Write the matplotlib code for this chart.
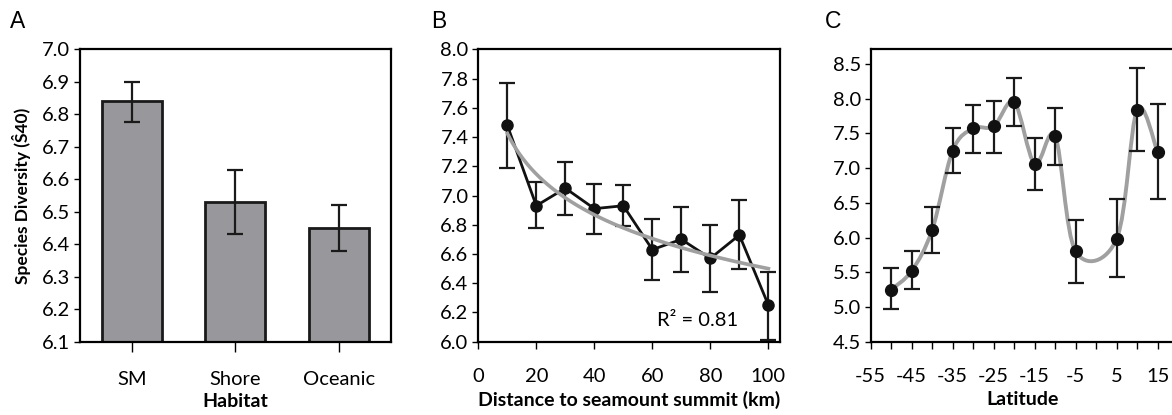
import numpy as np
import matplotlib
matplotlib.use("Agg")
import matplotlib.pyplot as plt
from matplotlib.path import Path
from matplotlib.patches import PathPatch

plt.rcParams.update({
    "font.family": ["Lato", "DejaVu Sans"],
    "xtick.labelsize": 14.5,
    "ytick.labelsize": 14.5,
    "axes.labelsize": 14,
    "axes.labelweight": "bold",
    "axes.linewidth": 1.6,
})

# A: diversity by habitat
habitats = ["SM", "Shore", "Oceanic"]
hab_mean = [6.84, 6.53, 6.45]
hab_lo = [6.775, 6.43, 6.38]
hab_hi = [6.90, 6.63, 6.52]

# B: diversity vs distance to summit
dist_km = [10, 20, 30, 40, 50, 60, 70, 80, 90, 100]
dist_mean = [7.48, 6.93, 7.05, 6.91, 6.93, 6.63, 6.70, 6.57, 6.73, 6.25]
dist_lo = [7.19, 6.78, 6.87, 6.74, 6.79, 6.42, 6.48, 6.34, 6.50, 6.01]
dist_hi = [7.77, 7.09, 7.23, 7.08, 7.07, 6.84, 6.92, 6.80, 6.97, 6.48]

# C: diversity vs latitude
lat = [-50, -45, -40, -35, -30, -25, -20, -15, -10, -5, 5, 10, 15]
lat_mean = [5.25, 5.52, 6.11, 7.25, 7.57, 7.60, 7.95, 7.06, 7.46, 5.80, 5.98, 7.84, 7.23]
lat_lo = [4.97, 5.26, 5.77, 6.93, 7.22, 7.22, 7.60, 6.68, 7.04, 5.35, 5.43, 7.24, 6.56]
lat_hi = [5.56, 5.80, 6.44, 7.57, 7.91, 7.96, 8.30, 7.44, 7.87, 6.25, 6.55, 8.44, 7.92]


def yerr(mean, lo, hi):
    mean = np.asarray(mean)
    return [mean - np.asarray(lo), np.asarray(hi) - mean]


def smooth_path(x, y):
    # Catmull-Rom style bezier through the points (spreadsheet "smoothed line")
    pts = np.column_stack([x, y]).astype(float)
    verts = [pts[0]]
    codes = [Path.MOVETO]
    n = len(pts)
    for i in range(n - 1):
        p0 = pts[i - 1] if i > 0 else pts[i]
        p1 = pts[i]
        p2 = pts[i + 1]
        p3 = pts[i + 2] if i + 2 < n else pts[i + 1]
        verts += [p1 + (p2 - p0) / 6, p2 - (p3 - p1) / 6, p2]
        codes += [Path.CURVE4] * 3
    return Path(verts, codes)


fig = plt.figure(figsize=(11.72, 4.15), dpi=100)
W, H = 1172, 415


def add_axes(x0, x1, y0=49.3, y1=341.7):
    return fig.add_axes([x0 / W, 1 - y1 / H, (x1 - x0) / W, (y1 - y0) / H])


ebar = dict(fmt="none", ecolor="#1a1a1a", elinewidth=1.6, capsize=6, capthick=1.6)

# ---- A ----
axA = add_axes(80, 390.7)
xa = np.arange(len(habitats))
axA.bar(xa, np.asarray(hab_mean) - 6.1, bottom=6.1, width=0.58, color="#98989c",
        edgecolor="#1a1a1a", linewidth=2, zorder=2)
axA.errorbar(xa, hab_mean, yerr=yerr(hab_mean, hab_lo, hab_hi), zorder=3, **ebar)
axA.set_xlim(-0.5, 2.5)
axA.set_ylim(6.1, 7.0)
axA.set_yticks(np.arange(6.1, 7.01, 0.1))
axA.yaxis.set_major_formatter(plt.FormatStrFormatter("%.1f"))
axA.set_xticks(xa)
axA.set_xticklabels(habitats)
axA.tick_params(axis="x", length=7, width=1, pad=14)
axA.tick_params(axis="y", length=4, width=1, pad=3)
axA.set_xlabel("Habitat", labelpad=4)
axA.set_ylabel("Species Diversity (Ŝ40)", fontsize=12.5, labelpad=8)

# ---- B ----
axB = add_axes(478.3, 780)
lx = np.log(dist_km)
b, a = np.polyfit(lx, dist_mean, 1)
xf = np.linspace(min(dist_km), max(dist_km), 200)
axB.plot(dist_km, dist_mean, color="#111111", lw=2, marker="o", ms=8, zorder=3)
axB.plot(xf, a + b * np.log(xf), color="#a0a0a0", lw=2.6, zorder=4)
axB.errorbar(dist_km, dist_mean, yerr=yerr(dist_mean, dist_lo, dist_hi), zorder=2, **ebar)
axB.set_xlim(0, 104)
axB.set_ylim(6.0, 8.0)
axB.set_xticks(range(0, 101, 20))
axB.set_yticks(np.arange(6.0, 8.01, 0.2))
axB.yaxis.set_major_formatter(plt.FormatStrFormatter("%.1f"))
axB.tick_params(axis="x", length=5, width=1, pad=14)
axB.tick_params(axis="y", length=4, width=1, pad=3)
axB.set_xlabel("Distance to seamount summit (km)", labelpad=4)
axB.text(0.861, 0.045, "R² = 0.81", transform=axB.transAxes, ha="right", va="bottom",
         fontsize=14.5)

# ---- C ----
axC = add_axes(870.7, 1174)
axC.add_patch(PathPatch(smooth_path(lat, lat_mean), facecolor="none",
                        edgecolor="#a0a0a0", lw=2.8, zorder=2))
axC.errorbar(lat, lat_mean, yerr=yerr(lat_mean, lat_lo, lat_hi), zorder=3, **ebar)
axC.plot(lat, lat_mean, ls="none", marker="o", ms=8.5, color="#111111", zorder=4)
axC.set_xlim(-55, 19)
axC.set_ylim(4.5, 8.71)
axC.set_xticks(range(-55, 16, 5))
axC.set_xticklabels([str(v) if (v + 55) % 10 == 0 else "" for v in range(-55, 16, 5)])
axC.set_yticks(np.arange(4.5, 8.51, 0.5))
axC.yaxis.set_major_formatter(plt.FormatStrFormatter("%.1f"))
axC.tick_params(axis="x", length=5, width=1, pad=14)
axC.tick_params(axis="y", length=4, width=1, pad=3)
axC.set_xlabel("Latitude", labelpad=4)

for letter, xpx in [("A", 10), ("B", 431), ("C", 825)]:
    fig.text(xpx / W, 1 - 28 / H, letter, fontsize=16.5, family="Liberation Sans",
             ha="left", va="baseline")

fig.savefig("out.png", dpi=100)
